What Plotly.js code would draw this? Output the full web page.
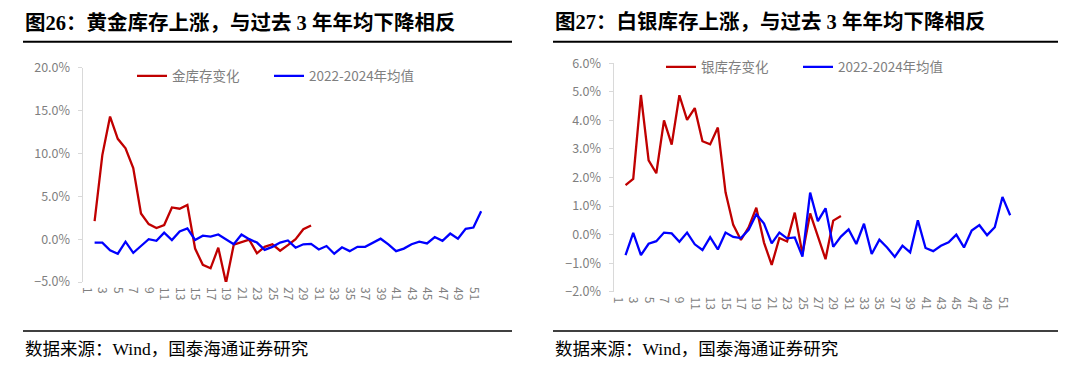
<!DOCTYPE html>
<html><head><meta charset="utf-8">
<script src="https://cdn.plot.ly/plotly-3.0.1.min.js"></script>
<style>html,body{margin:0;padding:0;background:#fff}#chart{width:1080px;height:376px}</style>
</head><body><div id="chart"></div>
<script>
// Week categories 1..52
const weeks = [1,2,3,4,5,6,7,8,9,10,11,12,13,14,15,16,17,18,19,20,21,22,23,24,25,26,
  27,28,29,30,31,32,33,34,35,36,37,38,39,40,41,42,43,44,45,46,47,48,49,50,51,52];
const weekTickLabels = [1,3,5,7,9,11,13,15,17,19,21,23,25,27,29,31,33,35,37,39,41,43,45,47,49,51];

// Figure 26: gold inventory change (%), weeks 1..30
const goldChange = [null, 2.1, 9.8, 14.3, 11.7, 10.6, 8.3, 3.0, 1.75, 1.3, 1.65, 3.7, 3.55, 4.0,
  -1.1, -3.0, -3.4, -1.0, -5.1, -0.65, -0.35, -0.05, -1.65, -0.9, -0.6, -1.35, -0.7, 0.0, 1.15, 1.6];
// 2022-2024 average (%), weeks 1..52
const goldAvg = [null, -0.4, -0.4, -1.3, -1.7, -0.3, -1.6, -0.8, 0.0, -0.2, 0.75, -0.1, 0.9, 1.25,
  -0.1, 0.4, 0.3, 0.55, -0.05, -0.6, 0.55, 0.0, -0.4, -1.25, -0.9, -0.4, -0.15, -1.0, -0.6, -0.55,
  -1.2, -0.8, -1.7, -0.95, -1.4, -0.9, -0.9, -0.45, 0.05, -0.6, -1.4, -1.1, -0.6, -0.3, -0.5,
  0.25, -0.2, 0.65, 0.05, 1.2, 1.35, 3.25];

// Figure 27: silver inventory change (%), weeks 1..30
const silverChange = [null, 1.73, 1.95, 4.89, 2.6, 2.15, 4.0, 3.15, 4.88, 4.02, 4.43, 3.27, 3.16, 3.75,
  1.48, 0.34, -0.19, 0.25, 0.94, -0.28, -1.06, -0.12, -0.24, 0.77, -0.68, 0.74, -0.05, -0.86, 0.49, 0.65];
const silverAvg = [null, -0.72, 0.06, -0.72, -0.32, -0.23, 0.07, 0.04, -0.25, 0.07, -0.34, -0.54, -0.09,
  -0.52, 0.07, -0.08, -0.12, 0.17, 0.71, 0.39, -0.31, 0.07, -0.13, -0.1, -0.77, 1.47, 0.47, 0.92,
  -0.43, -0.07, 0.18, -0.33, 0.38, -0.68, -0.18, -0.45, -0.78, -0.39, -0.62, 0.5, -0.47, -0.58,
  -0.39, -0.27, 0.0, -0.45, 0.14, 0.33, -0.02, 0.26, 1.32, 0.68];

const goldNames = ['金库存变化', '2022-2024年均值'];
const silverNames = ['银库存变化', '2022-2024年均值'];
const titles = ['图26：黄金库存上涨，与过去 3 年年均下降相反', '图27：白银库存上涨，与过去 3 年年均下降相反'];
const sourceText = '数据来源：Wind，国泰海通证券研究';

const W = 1080, H = 376;
const px = v => v / W;
const py = v => 1 - v / H;
const RED = '#C00000', BLUE = '#0000FF';
const AX = '#d9d9d9', TXT = '#7f7f7f';
const CJK = '"Noto Sans CJK SC", "Noto Sans", sans-serif';
const SERIF = '"Liberation Serif", "Noto Sans CJK SC", serif';

function labelAxis(domain, range) {
  return {domain: domain, range: range, tickmode: 'array', tickvals: weekTickLabels,
    ticktext: weekTickLabels.map(String), tickangle: 90, ticks: '', showline: false,
    showgrid: false, zeroline: false, tickfont: {size: 12, color: TXT, family: CJK},
    ticklabelstandoff: 4, fixedrange: true};
}
function zeroAxis(over, pos, range) {
  return {overlaying: over, anchor: 'free', position: pos, range: range, tickmode: 'array',
    tickvals: weeks, showticklabels: false, ticks: 'outside', ticklen: 4, tickcolor: AX, tickwidth: 1,
    showline: true, linecolor: AX, linewidth: 2, showgrid: false, zeroline: false};
}
function valAxis(domain, range, dtick) {
  return {domain: domain, range: range, dtick: dtick, tick0: 0, tickformat: '.1f', ticksuffix: '%',
    showline: true, linecolor: AX, linewidth: 1.5, ticks: 'outside', ticklen: 4, tickcolor: AX,
    showgrid: false, zeroline: false, tickfont: {size: 12.5, color: TXT, family: CJK},
    ticklabelstandoff: 5, fixedrange: true};
}

const xr = [0.5, 52.5];
const Ldom = [px(83), px(485)];
const LyDom = [py(282), py(67.7)];
const Lzero = py(239);
const Rdom = [px(614), px(1014)];
const RyDom = [py(291.7), py(63.3)];
const Rzero = py(234.5);

const traces = [
  {x: weeks, y: goldChange, name: goldNames[0], type: 'scatter', mode: 'lines',
   line: {color: RED, width: 2.3}, xaxis: 'x', yaxis: 'y', legend: 'legend'},
  {x: weeks, y: goldAvg, name: goldNames[1], type: 'scatter', mode: 'lines',
   line: {color: BLUE, width: 2.3}, xaxis: 'x', yaxis: 'y', legend: 'legend3'},
  {x: weeks, y: silverChange, name: silverNames[0], type: 'scatter', mode: 'lines',
   line: {color: RED, width: 2.3}, xaxis: 'x3', yaxis: 'y2', legend: 'legend2'},
  {x: weeks, y: silverAvg, name: silverNames[1], type: 'scatter', mode: 'lines',
   line: {color: BLUE, width: 2.3}, xaxis: 'x3', yaxis: 'y2', legend: 'legend4'}
];

const legendBase = {orientation: 'h', xanchor: 'left', yanchor: 'middle',
  font: {size: 13.5, color: TXT, family: CJK}, bgcolor: 'rgba(0,0,0,0)',
  itemclick: false, itemdoubleclick: false};

const layout = {
  width: W, height: H, autosize: false,
  margin: {l: 0, r: 0, t: 0, b: 0, pad: 0},
  paper_bgcolor: '#fff', plot_bgcolor: 'rgba(0,0,0,0)',
  showlegend: true,
  xaxis: Object.assign(labelAxis(Ldom, xr), {anchor: 'y'}),
  yaxis: Object.assign(valAxis(LyDom, [-5, 20], 5), {anchor: 'x'}),
  xaxis2: zeroAxis('x', Lzero, xr),
  xaxis3: Object.assign(labelAxis(Rdom, xr), {anchor: 'y2'}),
  yaxis2: Object.assign(valAxis(RyDom, [-2, 6], 1), {anchor: 'x3'}),
  xaxis4: zeroAxis('x3', Rzero, xr),
  legend: Object.assign({}, legendBase, {x: px(132), y: py(76)}),
  legend3: Object.assign({}, legendBase, {x: px(269), y: py(76)}),
  legend2: Object.assign({}, legendBase, {x: px(661), y: py(67)}),
  legend4: Object.assign({}, legendBase, {x: px(798), y: py(67)}),
  annotations: [
    {text: '<b>' + titles[0] + '</b>', x: px(23), y: py(22), xref: 'paper', yref: 'paper',
     xanchor: 'left', yanchor: 'middle', showarrow: false, font: {size: 20.5, color: '#000', family: SERIF}},
    {text: '<b>' + titles[1] + '</b>', x: px(553), y: py(22), xref: 'paper', yref: 'paper',
     xanchor: 'left', yanchor: 'middle', showarrow: false, font: {size: 20.5, color: '#000', family: SERIF}},
    {text: sourceText, x: px(23), y: py(349), xref: 'paper', yref: 'paper',
     xanchor: 'left', yanchor: 'middle', showarrow: false, font: {size: 17.5, color: '#000', family: SERIF}},
    {text: sourceText, x: px(553), y: py(349), xref: 'paper', yref: 'paper',
     xanchor: 'left', yanchor: 'middle', showarrow: false, font: {size: 17.5, color: '#000', family: SERIF}}
  ],
  shapes: [
    {type: 'line', xref: 'paper', yref: 'paper', x0: px(23), x1: px(512), y0: py(41.7), y1: py(41.7), line: {color: '#000', width: 2}},
    {type: 'line', xref: 'paper', yref: 'paper', x0: px(23), x1: px(512), y0: py(331), y1: py(331), line: {color: '#000', width: 1.5}},
    {type: 'line', xref: 'paper', yref: 'paper', x0: px(553), x1: px(1058), y0: py(41.7), y1: py(41.7), line: {color: '#000', width: 2}},
    {type: 'line', xref: 'paper', yref: 'paper', x0: px(553), x1: px(1058), y0: py(331), y1: py(331), line: {color: '#000', width: 1.5}}
  ]
};

Plotly.newPlot('chart', traces, layout, {displayModeBar: false, staticPlot: true});
</script>
</body></html>
